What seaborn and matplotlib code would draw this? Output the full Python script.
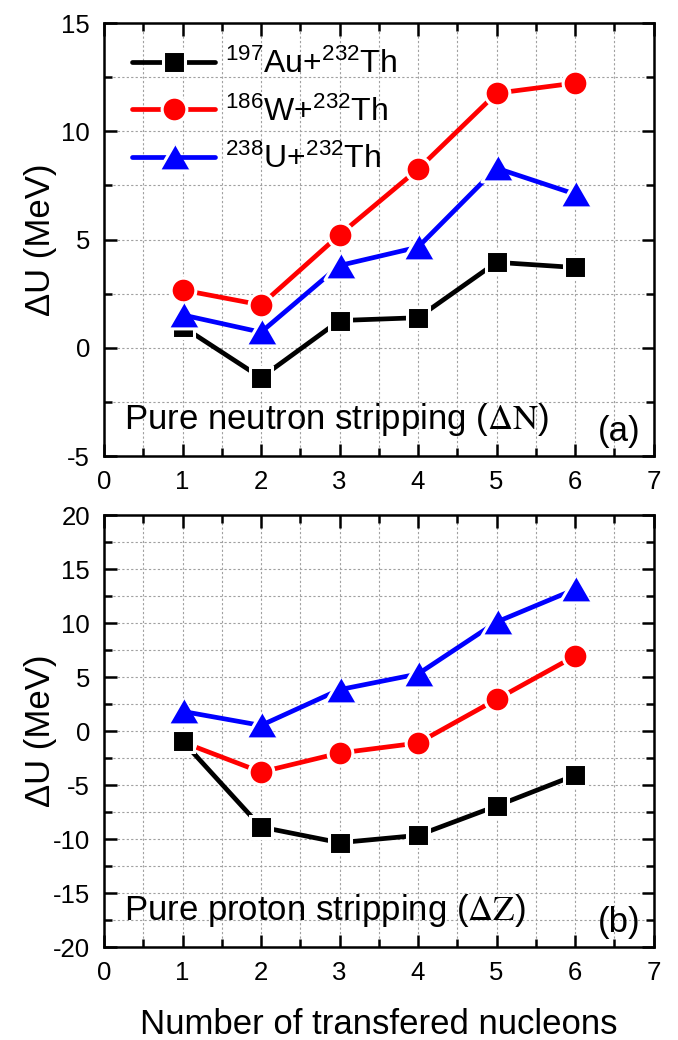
import numpy as np
import pandas as pd
import matplotlib
matplotlib.use("Agg")
import matplotlib.pyplot as plt
import seaborn as sns
from matplotlib.ticker import MultipleLocator

# ---------------- data ----------------
n_transfer = [1, 2, 3, 4, 5, 6]
system_labels = [r"$^{197}$Au+$^{232}$Th", r"$^{186}$W+$^{232}$Th", r"$^{238}$U+$^{232}$Th"]

neutron_au = [0.98, -1.38, 1.26, 1.39, 3.95, 3.71]
neutron_w = [2.67, 1.98, 5.22, 8.25, 11.76, 12.23]
neutron_u = [1.52, 0.72, 3.80, 4.65, 8.30, 7.10]

proton_au = [-0.93, -8.89, -10.34, -9.66, -6.94, -4.10]
proton_w = [-1.02, -3.80, -2.04, -1.11, 2.93, 6.94]
proton_u = [1.82, 0.52, 3.83, 5.28, 10.09, 13.12]

panel_texts = [r"Pure neutron stripping ($\Delta\mathrm{N}$)", r"Pure proton stripping ($\Delta\mathrm{Z}$)"]
panel_tags = ["(a)", "(b)"]
xlabel = "Number of transfered nucleons"
ylabel = "ΔU (MeV)"

# ---------------- style ----------------
sns.set_style("ticks")
plt.rcParams["font.family"] = ["Liberation Sans", "DejaVu Sans"]
plt.rcParams["mathtext.fontset"] = "custom"
plt.rcParams["mathtext.rm"] = "Liberation Sans"
plt.rcParams["mathtext.it"] = "Liberation Sans:italic"
plt.rcParams["mathtext.bf"] = "Liberation Sans:bold"
plt.rcParams["axes.unicode_minus"] = False
for k in ["text.color", "axes.labelcolor", "xtick.color", "ytick.color", "axes.edgecolor"]:
    plt.rcParams[k] = "black"

tri = [(0, 0.866), (-1, -0.866), (1, -0.866)]
gap = 2.2
series_style = {
    "Au": dict(color="black", marker="s", ms=14 + gap),
    "W": dict(color="#ff0000", marker="o", ms=15.6 + gap),
    "U": dict(color="#0000ff", marker=tri, ms=18.5 + 1.732 * gap),
}

fig = plt.figure(figsize=(6.78, 10.4), dpi=100)
ax1 = fig.add_axes([0.1534, 0.5615, 0.8105, 0.4163])
ax2 = fig.add_axes([0.1534, 0.0894, 0.8105, 0.4154])

panels = [
    (ax1, {"Au": neutron_au, "W": neutron_w, "U": neutron_u}, (-5, 15)),
    (ax2, {"Au": proton_au, "W": proton_w, "U": proton_u}, (-20, 20)),
]

label_map = dict(zip(["Au", "W", "U"], system_labels))

for i, (ax, series, ylim) in enumerate(panels):
    for key in ["W", "Au", "U"]:
        st = series_style[key]
        df = pd.DataFrame({"n": n_transfer, "du": series[key]})
        sns.lineplot(data=df, x="n", y="du", ax=ax, color=st["color"],
                     marker=st["marker"], markersize=st["ms"],
                     markeredgecolor="white", markeredgewidth=gap,
                     linewidth=3.4, label=label_map[key], errorbar=None,
                     legend=False)
    ax.set_xlim(0, 7)
    ax.set_ylim(*ylim)
    ax.xaxis.set_major_locator(MultipleLocator(1))
    ax.xaxis.set_minor_locator(MultipleLocator(0.5))
    ax.yaxis.set_major_locator(MultipleLocator(5))
    ax.yaxis.set_minor_locator(MultipleLocator(2.5))
    ax.tick_params(which="both", direction="in", top=True, right=True,
                   width=1.8, labelsize=18.5, pad=10, colors="black")
    ax.tick_params(which="major", length=9)
    ax.tick_params(which="minor", length=5.5)
    for sp in ax.spines.values():
        sp.set_linewidth(1.8)
        sp.set_color("black")
    ax.grid(which="both", color="#a0a0a0", linestyle=(0, (2, 2)), linewidth=0.8)
    ax.set_axisbelow(True)
    ax.set_xlabel("")
    ax.set_ylabel(ylabel, fontsize=25, va="center", color="black")
    ax.yaxis.set_label_coords(-0.116, 0.5)
    ax.text(0.037, 0.063, panel_texts[i], transform=ax.transAxes, fontsize=25,
            ha="left", va="baseline", math_fontfamily="stix", color="black")
    ax.text(0.977, 0.035, panel_tags[i], transform=ax.transAxes, fontsize=25,
            ha="right", va="baseline", color="black")

ax2.set_xlabel(xlabel, fontsize=25, va="center", color="black")
ax2.xaxis.set_label_coords(0.5, -0.18)

# legend in top panel, ordered Au, W, U
handles, labels = ax1.get_legend_handles_labels()
order = [labels.index(l) for l in system_labels]
ax1.legend([handles[j] for j in order], [labels[j] for j in order],
           loc="upper left", bbox_to_anchor=(0.051, 0.94), frameon=False,
           fontsize=23, handlelength=2.6, handletextpad=0.31,
           labelspacing=0.5, borderpad=0, borderaxespad=0)

fig.savefig("out.png", dpi=100)
